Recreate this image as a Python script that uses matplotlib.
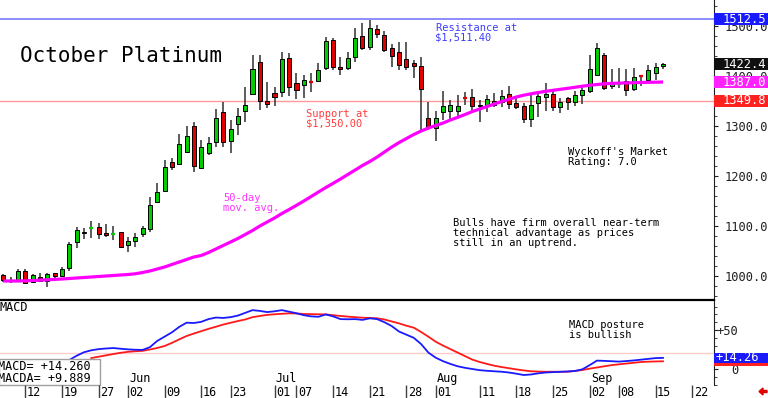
import numpy as np
import pandas as pd
import matplotlib
matplotlib.use('Agg')
import matplotlib.pyplot as plt
import matplotlib.transforms as mtransforms
from matplotlib.patches import Rectangle, FancyArrow

plt.rcParams['font.family'] = ['DejaVu Sans Mono', 'DejaVu Sans']

# trading days, exchange holidays skipped
dates = pd.bdate_range('2025-05-07', '2025-09-16')
dates = dates[~dates.isin(pd.to_datetime(['2025-05-26', '2025-06-19', '2025-07-04', '2025-09-01']))]

opens = [1001, 988, 989.7, 1009, 986.3, 996.3, 989.7, 1004.3, 999, 1014.3,
         1067.7, 1084.3, 1094, 1097.7, 1085.7, 1083, 1086.3, 1060.3, 1069.7, 1082.3,
         1092.3, 1147.7, 1169.7, 1227.7, 1223, 1246.3, 1299, 1214.3, 1244.3, 1267.7,
         1327.7, 1269, 1303, 1329.7, 1362.3, 1426.3, 1349.7, 1365.7, 1367.7, 1436,
         1385, 1381, 1386.5, 1389, 1414.3, 1471, 1416.3, 1414.3, 1437.7, 1479.7,
         1457.7, 1493, 1481, 1455.7, 1447.7, 1433, 1424.3, 1419, 1315, 1296,
         1327.7, 1329.7, 1329.7, 1355.2, 1356.3, 1340, 1339, 1341, 1347.7, 1363,
         1345.7, 1339, 1312.3, 1344.3, 1356.3, 1363, 1337.7, 1354.3, 1347.7, 1361,
         1369.7, 1401, 1441, 1379, 1383, 1389.7, 1372.3, 1399.2, 1391, 1405.7,
         1418.3]
highs = [1003, 997.7, 1012.3, 1014, 1003, 1005.7, 1004.3, 1005.7, 1017.7, 1067.7,
         1096.3, 1094.3, 1109.7, 1104.3, 1103, 1099, 1087.7, 1076.3, 1084.3, 1099,
         1157.7, 1184.3, 1231, 1234.3, 1282.3, 1299, 1307.7, 1271, 1277.7, 1332.3,
         1347.7, 1311, 1334.3, 1377.7, 1441, 1441, 1387.7, 1377.7, 1447.7, 1445,
         1405, 1401, 1404.3, 1424.3, 1477.7, 1475.7, 1437.7, 1447.7, 1494.3, 1504.3,
         1511, 1501, 1489, 1462.3, 1467.7, 1467.7, 1431, 1437.7, 1347.7, 1330,
         1369.7, 1351, 1361, 1367.7, 1372.3, 1351, 1361, 1365.7, 1371, 1379,
         1357.7, 1344.3, 1361, 1364.3, 1384.3, 1371, 1354.3, 1357.7, 1369.7, 1377.7,
         1441, 1465.7, 1445.7, 1412.3, 1414.3, 1412.3, 1414.3, 1401, 1421, 1425.7,
         1425.7]
lows = [987.5, 984.3, 987.7, 984.3, 984.3, 987.7, 977.7, 991, 997.7, 1009.7,
        1054.3, 1072.3, 1074.3, 1072.3, 1076.3, 1071, 1055.7, 1047.7, 1056.3, 1077.7,
        1087.7, 1144.3, 1167.7, 1211, 1221, 1244.3, 1207.7, 1214.3, 1241, 1256.3,
        1257.7, 1245.7, 1281, 1307.7, 1361, 1331, 1334.3, 1339, 1357.7, 1360,
        1353, 1355.7, 1366.3, 1387.7, 1411, 1411, 1401, 1411, 1427.7, 1451,
        1451, 1475.7, 1447.7, 1417.7, 1411, 1411, 1394.3, 1289, 1291, 1270,
        1311, 1309.7, 1317.7, 1341, 1329.7, 1307.7, 1327.7, 1337.7, 1337.7, 1332.3,
        1332.3, 1304.3, 1297.7, 1316.3, 1329.7, 1329.7, 1324.3, 1331, 1339, 1343,
        1364.3, 1399, 1371, 1372.3, 1374.3, 1359, 1369.7, 1379, 1384.3, 1391,
        1412.3]
closes = [991, 988.2, 1009.7, 985.7, 1001, 989.7, 1003, 999, 1013, 1063,
          1091, 1086.3, 1094.4, 1083, 1080.3, 1083.2, 1057.7, 1068.3, 1077.7, 1095,
          1141, 1167.7, 1217.7, 1217.7, 1262.3, 1279.7, 1219, 1256.3, 1264.3, 1314.3,
          1267.7, 1292.3, 1319, 1341, 1413, 1349.7, 1342.3, 1357.7, 1432.3, 1378,
          1371.5, 1390.3, 1386.2, 1411, 1469, 1416.3, 1413, 1434.3, 1474.3, 1455.7,
          1494.3, 1482.3, 1451, 1439.7, 1421, 1417.7, 1419.7, 1373, 1297.7, 1315.3,
          1339, 1341, 1339, 1355, 1339, 1342, 1352.3, 1349.7, 1359.7, 1343,
          1336.3, 1312.3, 1341, 1359, 1363, 1337.7, 1347.7, 1347.7, 1361, 1371,
          1412.3, 1454.3, 1374.3, 1385.7, 1383.2, 1371, 1396.3, 1399, 1411, 1416.3,
          1422.4]
ma50 = [989, 989, 989, 989.4, 990, 990.6, 991.4, 992.2, 993, 994,
        995, 996, 997, 998, 999, 1000, 1001, 1002, 1003.4, 1006,
        1009, 1013, 1017, 1022, 1027, 1032, 1037, 1040, 1046, 1053,
        1060, 1067, 1074, 1082, 1090, 1099, 1107, 1115, 1124, 1132,
        1140.4, 1149, 1158, 1167, 1176, 1184.4, 1193, 1202, 1211, 1220,
        1228, 1237, 1247, 1257, 1266, 1274, 1282, 1289, 1295, 1300,
        1305, 1311, 1316.4, 1322, 1328, 1333, 1338, 1343, 1348, 1352.6,
        1357, 1360.6, 1363.4, 1366, 1368.4, 1370.4, 1372.4, 1374.4, 1376.4, 1378.6,
        1380.4, 1382, 1383.4, 1384.2, 1384.8, 1385.2, 1385.6, 1386, 1386.4, 1386.6,
        1387]

# MACD lines (visible part only, they end on the last day)
macd = [11.5, 17, 21.5, 24, 25.5, 26.3, 26.9, 26, 25.2, 24.7,
        24.5, 28, 36, 41.5, 47, 54, 59.4, 59, 60.5, 64,
        66, 65.5, 66.5, 68.5, 72, 75.5, 74.5, 73, 74, 75.5,
        73.5, 71.5, 69, 67.5, 67, 70, 67.5, 64, 63.8, 64,
        63, 65, 64, 60, 55, 48, 44, 40, 32, 21,
        14.5, 10, 6.5, 3.5, 1.5, 0, -1.5, -2.3, -2.9, -3.5,
        -4.5, -6, -7.7, -7, -5.5, -4.5, -4, -3.6, -3.1, -2.5,
        -0.4, 5, 10.8, 10.4, 10, 9.5, 10.2, 11, 12, 13,
        14, 14.26]
macda = [14, 15.8, 17.5, 19.2, 20.8, 22, 22.8, 23.3, 25, 27,
         29.5, 33.5, 38, 42.3, 45.5, 48.5, 51.5, 54.2, 57, 59.3,
         61.5, 63.5, 66.5, 68, 69.4, 70.2, 70.8, 71.4, 71.2, 70.6,
         70.4, 70.2, 70, 69, 68, 67.2, 66.5, 65.8, 65.5, 65,
         63.5, 61, 58.5, 55.5, 53, 47.5, 41.4, 35, 30, 25.5,
         21, 16.5, 12, 9, 6.5, 4.2, 2.5, 1, -0.5, -1.8,
         -2.9, -3.3, -3.5, -3.5, -3.5, -3.5, -2.5, -1.3, 0.5, 2,
         3.5, 5, 6, 7, 8, 9, 9.4, 9.7, 9.889]

resistance = 1512.5
support = 1349.8
tick_dates = ['2025-05-12', '2025-05-19', '2025-05-27', '2025-06-02', '2025-06-09',
              '2025-06-16', '2025-06-23', '2025-07-01', '2025-07-07', '2025-07-14',
              '2025-07-21', '2025-07-28', '2025-08-01', '2025-08-11', '2025-08-18',
              '2025-08-25', '2025-09-02', '2025-09-08', '2025-09-15', '2025-09-22']
month_starts = ['2025-06-02', '2025-07-01', '2025-08-01', '2025-09-02']

W, H = 768, 398
fig = plt.figure(figsize=(W / 100, H / 100), dpi=100)


def fx(px):
    return px / W


def fy(py):
    return 1 - py / H


ax = fig.add_axes([0, fy(300), fx(714), 300 / H])
ax2 = fig.add_axes([0, fy(385), fx(714), 85 / H])
axd = fig.add_axes([0, 0, fx(714), 13 / H])

idx = np.arange(len(dates))
xlim = (-0.45, 96.96)


def date_pos(d):
    d = pd.Timestamp(d)
    if d in dates:
        return dates.get_loc(d)
    return len(dates) - 1 + np.busday_count(dates[-1].date(), d.date())


# ---- price panel
o, c = np.array(opens), np.array(closes)
hi, lo = np.array(highs), np.array(lows)
col = np.where(c >= o, '#00cc00', '#e00000')
body = np.abs(c - o)
doji = body < 1.2

ax.axhline(resistance, color='#8c8cff', lw=1.4, zorder=1)
ax.axhline(support, color='#ff9a9a', lw=1.0, zorder=1)
ax.vlines(idx, lo, hi, color='#303030', lw=1.1, zorder=2)
ax.bar(idx[~doji], body[~doji], bottom=np.minimum(o, c)[~doji], width=0.55,
       color=col[~doji], edgecolor='black', linewidth=0.7, zorder=3)
ax.hlines(c[doji], idx[doji] - 0.3, idx[doji] + 0.3, colors=col[doji], lw=1.6, zorder=3)
ax.plot(idx, ma50, color='#ff00ff', lw=2.3, zorder=4, solid_capstyle='butt')

ax.set_xlim(*xlim)
ax.set_ylim(951, 1551)
ax.set_xticks([])
for s in ['left', 'top', 'bottom']:
    ax.spines[s].set_visible(False)
ax.spines['right'].set_color('#202020')
ax.yaxis.tick_right()
ax.set_yticks(np.arange(1000, 1501, 100))
ax.set_yticklabels([f'{v:.1f}' for v in np.arange(1000, 1501, 100)])
ax.set_yticks(np.arange(960, 1551, 20), minor=True)
ax.tick_params(axis='y', which='major', direction='out', length=3, pad=4.3,
               labelsize=8.7, colors='#202020')
ax.tick_params(axis='y', which='minor', direction='out', length=2, colors='#202020')

bw = (W - 714) / 714


def tag(axis, val, h, fc, txt, dx):
    tr = mtransforms.blended_transform_factory(axis.transAxes, axis.transData)
    axis.add_patch(Rectangle((1.0, val - h / 2), bw, h, transform=tr, fc=fc, ec='none',
                             clip_on=False, zorder=10))
    axis.text(1.0 + dx / 714, val, txt, transform=tr, color='white', fontsize=8.7,
              va='center', ha='left', clip_on=False, zorder=11)


tag(ax, resistance, 24, '#1a1aff', f'{resistance:.1f}', 9)
tag(ax, closes[-1], 24, '#101010', f'{closes[-1]:.1f}', 9)
tag(ax, ma50[-1], 24, '#ff22ff', f'{ma50[-1]:.1f}', 9)
tag(ax, support, 24, '#ff2020', f'{support:.1f}', 9)

# ---- MACD panel
ax2.axhline(20, color='#ffcccc', lw=1.0, zorder=1)
ax2.plot(idx[-len(macda):], macda, color='#ff1a1a', lw=1.3, zorder=2)
ax2.plot(idx[-len(macd):], macd, color='#1a1aff', lw=1.3, zorder=3)
ax2.set_xlim(*xlim)
ax2.set_ylim(-20.5, 88.5)
ax2.set_xticks([])
for s in ['left', 'bottom']:
    ax2.spines[s].set_visible(False)
ax2.spines['top'].set_linewidth(1.6)
ax2.spines['right'].set_color('#202020')
ax2.yaxis.tick_right()
ax2.set_yticks([0, 50])
ax2.set_yticklabels(['0', '+50'])
ax2.set_yticks(np.arange(-20, 90, 10), minor=True)
ax2.tick_params(axis='y', which='major', direction='out', length=3, pad=14.4,
                labelsize=8.7, colors='#202020')
ax2.tick_params(axis='y', which='minor', direction='out', length=2, colors='#202020')
for t in ax2.get_yticklabels():
    t.set_horizontalalignment('right')

tag(ax2, macda[-1], 12.8, '#ff2020', '', 2)
tag(ax2, macd[-1], 12.8, '#1a1aff', f'{macd[-1]:+.2f}', 1.5)

ax2.text(-1 / 714, 1 - 1 / 85, 'MACD', transform=ax2.transAxes, fontsize=8.5,
         va='top', ha='left')
ax2.add_patch(Rectangle((fx(-1), fy(384.5)), fx(101), 25.5 / H, transform=fig.transFigure,
                        fc='white', ec='#a0a0a0', lw=1.0, clip_on=False, zorder=8))
ax2.text(fx(-1.5), fy(359.5), f'MACD= {macd[-1]:+.3f}\nMACDA= {macda[-1]:+.3f}',
         transform=fig.transFigure, fontsize=8.5, va='top', ha='left', linespacing=1.0,
         zorder=9)

mtr = mtransforms.blended_transform_factory(ax2.transData, ax2.transAxes)
for d in month_starts:
    ax2.text(date_pos(d) + 0.15, 0.03, pd.Timestamp(d).strftime('%b'), transform=mtr,
             fontsize=8.5, va='baseline', ha='left')

# ---- date row
axd.set_xlim(*xlim)
axd.set_ylim(0, 1)
axd.axis('off')
tpos = [date_pos(d) for d in tick_dates]
axd.vlines(tpos, 0, 1, color='#404040', lw=1.0)
for p, d in zip(tpos, tick_dates):
    axd.text(p + 0.2, 0.15, pd.Timestamp(d).strftime('%d'), fontsize=8.5,
             va='baseline', ha='left')

fig.patches.append(FancyArrow(fx(767), fy(391.5), -fx(8), 0, width=2 / H,
                              head_width=7 / H, head_length=fx(4), color='#e00000',
                              transform=fig.transFigure, length_includes_head=True))

# ---- annotations
fig.text(fx(20), fy(46.5), 'October Platinum', fontsize=15, va='top')
fig.text(fx(435.5), fy(23), 'Resistance at\n\\$1,511.40', fontsize=7.5, va='top',
         color='#3c3cff', linespacing=1.0)
fig.text(fx(306), fy(109), 'Support at\n\\$1,350.00', fontsize=7.5, va='top',
         color='#ff3c3c', linespacing=1.0)
fig.text(fx(223.3), fy(193), '50-day\nmov. avg.', fontsize=7.5, va='top',
         color='#ff33ff', linespacing=1.0)
fig.text(fx(568), fy(147), "Wyckoff's Market\nRating: 7.0", fontsize=7.5, va='top',
         linespacing=1.0)
fig.text(fx(453.3), fy(218), 'Bulls have firm overall near-term\ntechnical advantage as prices\n'
         'still in an uptrend.', fontsize=7.5, va='top', linespacing=1.0)
fig.text(fx(569.3), fy(320), 'MACD posture\nis bullish', fontsize=7.5, va='top',
         linespacing=1.0)

fig.savefig('out.png', dpi=100, facecolor='white')
